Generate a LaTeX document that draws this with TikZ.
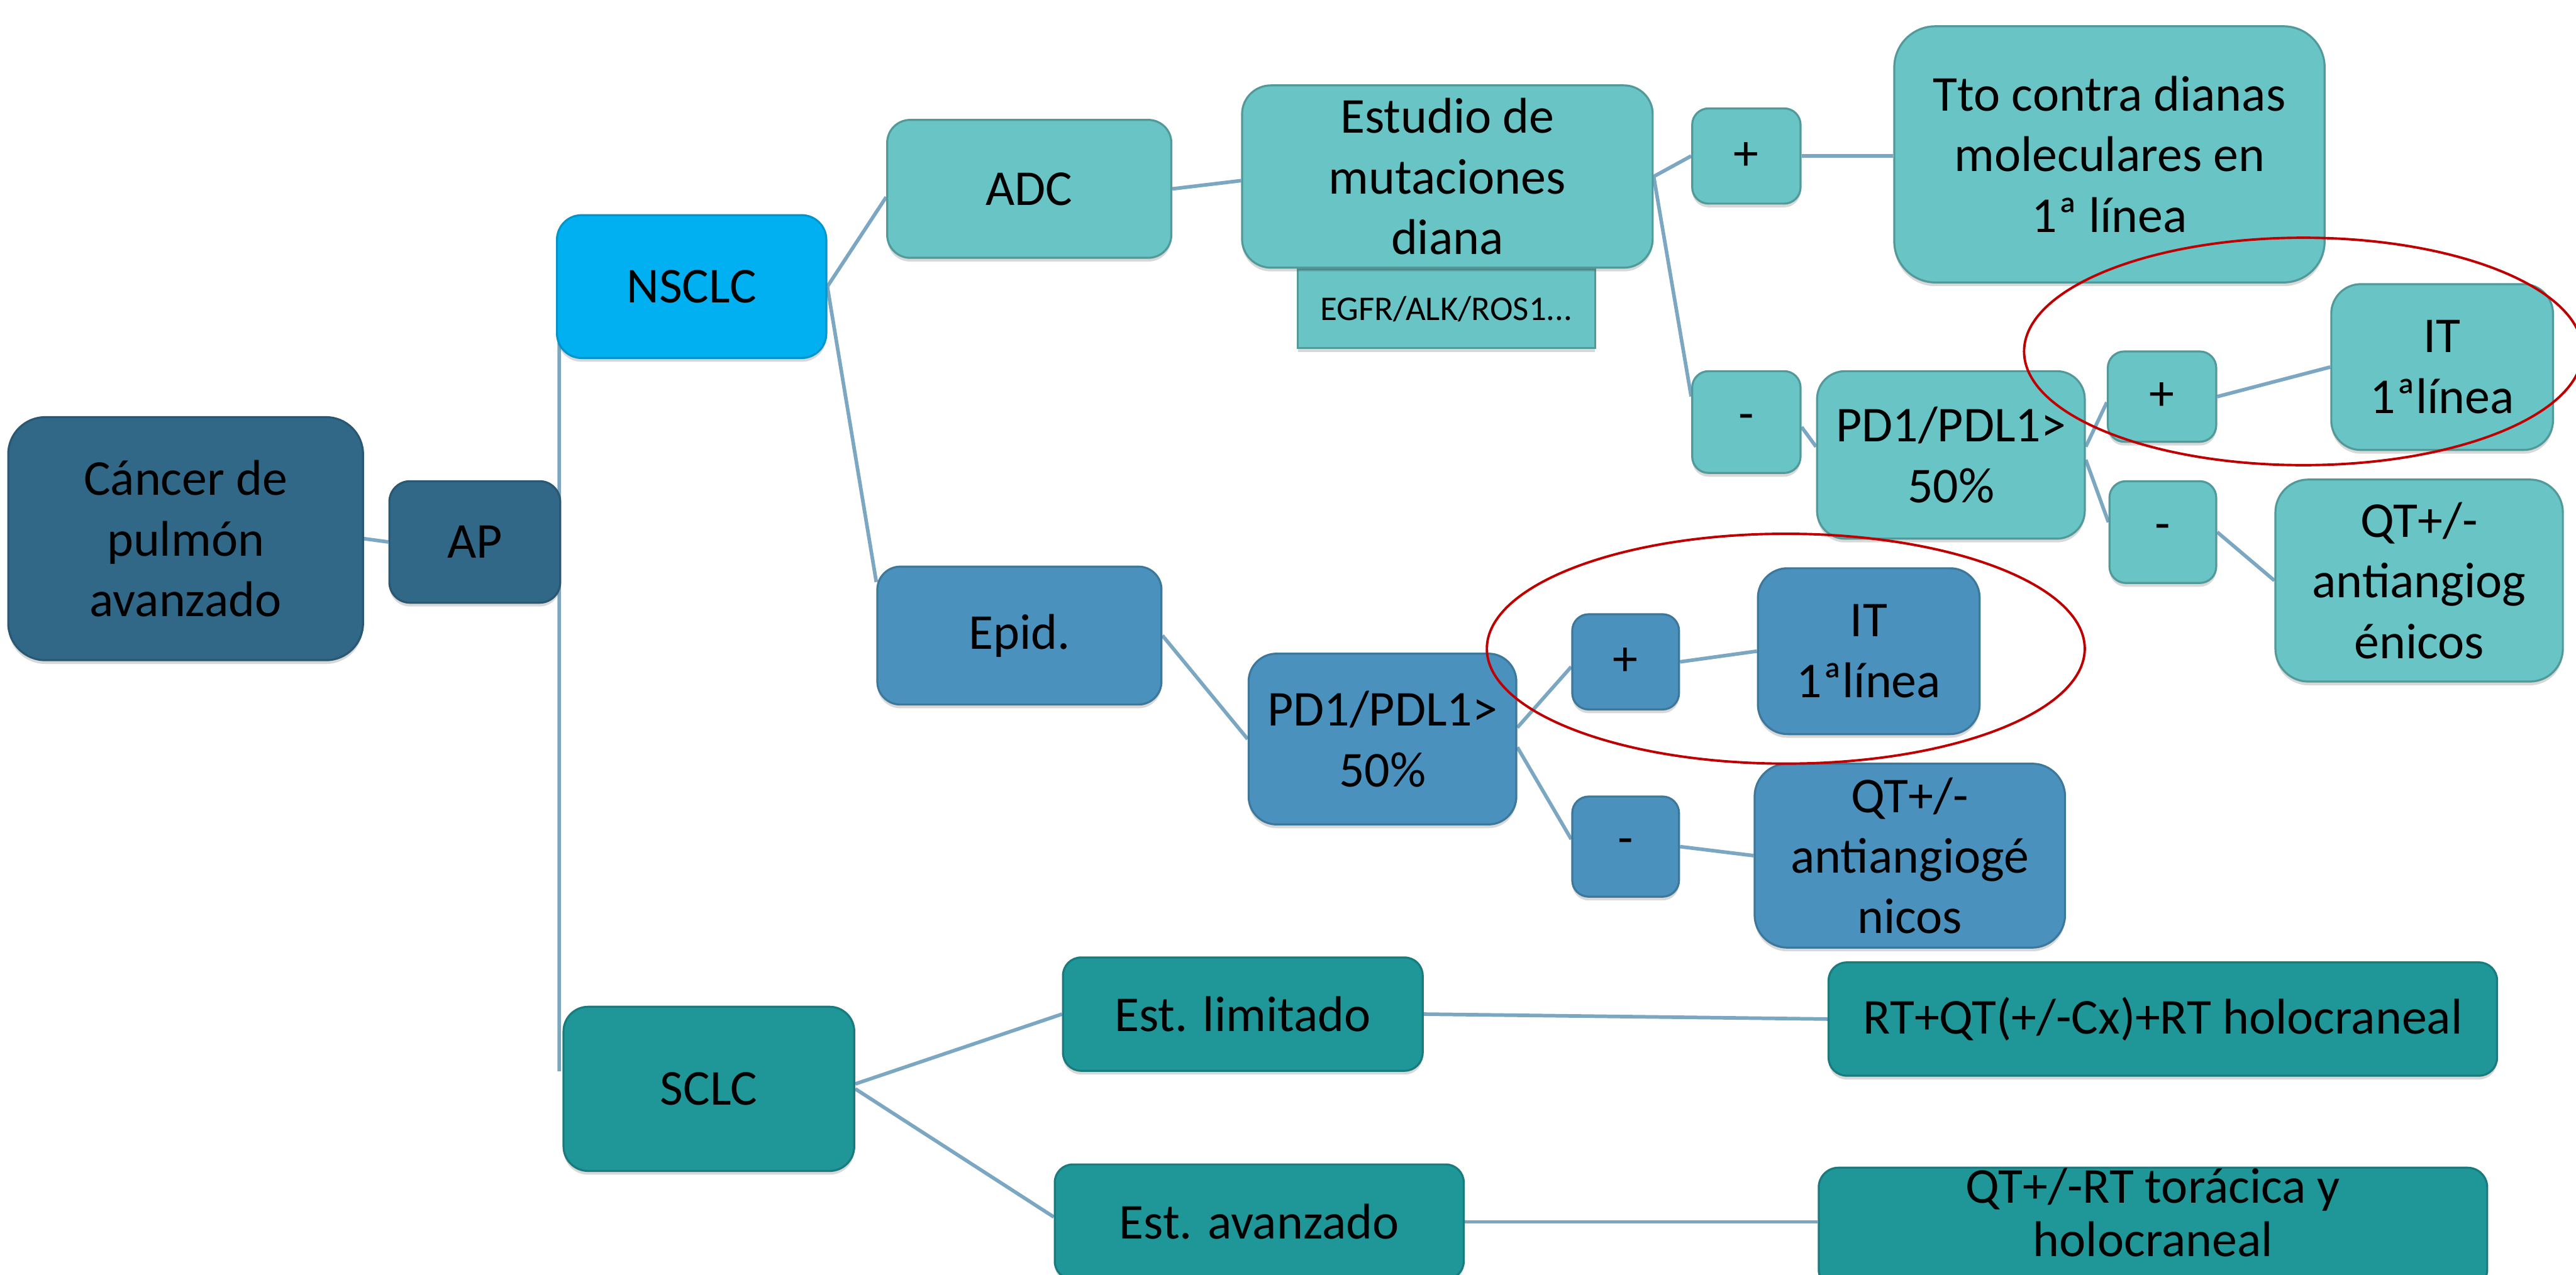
\documentclass[tikz,border=0pt]{standalone}
\usepackage{fontspec}
\setmainfont{Carlito}
\usetikzlibrary{calc,shadows}
\definecolor{cdark}{HTML}{326887}
\definecolor{cnsclc}{HTML}{00B0F0}
\definecolor{clight}{HTML}{69C4C6}
\definecolor{cepid}{HTML}{4A92BD}
\definecolor{cteal}{HTML}{1F9698}
\definecolor{cline}{HTML}{7BA7C2}
\definecolor{cred}{HTML}{C00000}
\pgfdeclarelayer{background}
\pgfsetlayers{background,main}
\begin{document}
\begin{tikzpicture}[x=0.02cm,y=-0.02cm,
  box/.style={align=center, inner sep=0pt, text=black,
    font=\fontsize{17.4pt}{21pt}\selectfont, line width=0.7pt,
    drop shadow={shadow xshift=0pt, shadow yshift=-1.3pt, opacity=0.22, fill=black!70}},
  dk/.style={box, fill=cdark, draw=cdark!85!black},
  ns/.style={box, fill=cnsclc, draw=cnsclc!85!black},
  lt/.style={box, fill=clight, draw=clight!78!black},
  ep/.style={box, fill=cepid, draw=cepid!82!black},
  tl/.style={box, fill=cteal, draw=cteal!82!black},
  conn/.style={draw=cline, line width=1.25pt},
  ring/.style={draw=cred, line width=0.85pt}]
\useasboundingbox (0,0) rectangle (1568,776);
\clip (0,0) rectangle (1568,776);

% root
\node[dk, rounded corners=0.45cm, minimum width=4.32cm, minimum height=2.96cm] (can) at (113,328) {Cáncer de\\pulmón\\avanzado};
\node[dk, rounded corners=0.25cm, minimum width=2.08cm, minimum height=1.48cm] (ap) at (289,330) {AP};

% level 2
\node[ns, rounded corners=0.3cm, minimum width=3.28cm, minimum height=1.74cm] (nsclc) at (421,174.5) {NSCLC};
\node[tl, rounded corners=0.3cm, minimum width=3.54cm, minimum height=2.0cm] (sclc) at (431.5,663) {SCLC};

% NSCLC branch
\node[lt, rounded corners=0.28cm, minimum width=3.46cm, minimum height=1.68cm] (adc) at (626.5,115) {ADC};
\node[ep, rounded corners=0.28cm, minimum width=3.46cm, minimum height=1.68cm] (epid) at (620.5,387) {Epid.};

\node[lt, rounded corners=0pt, minimum width=3.62cm, minimum height=0.96cm, font=\fontsize{12pt}{14pt}\selectfont] (egfr) at (880.5,188) {EGFR/ALK/ROS1...};
\node[lt, rounded corners=0.35cm, minimum width=5.0cm, minimum height=2.22cm] (estudio) at (881,107.5) {Estudio de\\mutaciones\\diana};

\node[lt, rounded corners=0.2cm, minimum width=1.32cm, minimum height=1.16cm] (plus1) at (1063,95) {+};
\node[lt, rounded corners=0.5cm, minimum width=5.24cm, minimum height=3.12cm] (tto) at (1284,94) {Tto contra dianas\\moleculares en\\1ª línea};
\node[lt, rounded corners=0.2cm, minimum width=1.32cm, minimum height=1.24cm] (minus1) at (1063,257) {-};
\node[lt, rounded corners=0.34cm, minimum width=3.26cm, minimum height=2.04cm] (pd1) at (1187.5,277) {PD1/PDL1>\\50\%};
\node[lt, rounded corners=0.2cm, minimum width=1.32cm, minimum height=1.1cm] (plus2) at (1316,241.5) {+};
\node[lt, rounded corners=0.36cm, minimum width=2.7cm, minimum height=2.02cm] (it1) at (1486.5,223.5) {IT\\1ªlínea};
\node[lt, rounded corners=0.2cm, minimum width=1.3cm, minimum height=1.24cm] (minus2) at (1316.5,324) {-};
\node[lt, rounded corners=0.4cm, minimum width=3.5cm, minimum height=2.46cm] (qt1) at (1472.5,353.5) {QT+/-\\antiangiog\\énicos};

\node[ep, rounded corners=0.34cm, minimum width=3.26cm, minimum height=2.08cm] (pd1b) at (841.5,450) {PD1/PDL1>\\50\%};
\node[ep, rounded corners=0.2cm, minimum width=1.3cm, minimum height=1.16cm] (plus3) at (989.5,403) {+};
\node[ep, rounded corners=0.36cm, minimum width=2.7cm, minimum height=2.02cm] (it2) at (1137.5,396.5) {IT\\1ªlínea};
\node[ep, rounded corners=0.2cm, minimum width=1.3cm, minimum height=1.22cm] (minus3) at (989.5,515.5) {-};
\node[ep, rounded corners=0.4cm, minimum width=3.78cm, minimum height=2.24cm] (qt2) at (1162.5,521) {QT+/-\\antiangiogé\\nicos};

% SCLC branch
\node[tl, rounded corners=0.22cm, minimum width=4.38cm, minimum height=1.38cm] (estlim) at (756.5,617.5) {Est. limitado};
\node[tl, rounded corners=0.22cm, minimum width=8.14cm, minimum height=1.38cm] (rt) at (1316.5,620.5) {RT+QT(+/-Cx)+RT holocraneal};
\node[tl, rounded corners=0.22cm, minimum width=4.98cm, minimum height=1.4cm] (estav) at (766.5,744) {Est. avanzado};
\node[tl, rounded corners=0.24cm, minimum width=8.14cm, minimum height=1.48cm, text depth=11pt, font=\fontsize{17.4pt}{18.5pt}\selectfont] (qtrt) at (1310.5,748) {QT+/-RT torácica y\\holocraneal};

% connectors, behind the boxes
\begin{pgfonlayer}{background}
\draw[conn] (can.east) -- (ap.west);
\draw[conn] ($(nsclc.south west)+(2,-10)$) -- ($(sclc.north west)+(-2,40)$);
\draw[conn] (nsclc.east) -- ($(adc.west)+(0,5)$);
\draw[conn] (nsclc.east) -- ($(epid.north west)+(0,10)$);
\draw[conn] (adc.east) -- ($(estudio.west)+(0,2.5)$);
\draw[conn] (estudio.east) -- (plus1.west);
\draw[conn] (estudio.east) -- ($(minus1.north west)+(0,16)$);
\draw[conn] (plus1.east) -- (plus1.east -| tto.west);
\draw[conn] ($(minus1.east)+(0,3)$) -- ($(pd1.west)+(0,-5)$);
\draw[conn] ($(pd1.east)+(0,-5)$) -- ($(plus2.west)+(0,3.5)$);
\draw[conn] ($(pd1.east)+(0,3)$) -- ($(minus2.west)+(0,-6)$);
\draw[conn] (plus2.east) -- (it1.west);
\draw[conn] (minus2.east) -- (qt1.west);
\draw[conn] (epid.east) -- (pd1b.west);
\draw[conn] ($(pd1b.east)+(0,-7)$) -- ($(plus3.west)+(0,3)$);
\draw[conn] ($(pd1b.east)+(0,5)$) -- ($(minus3.west)+(0,-4.5)$);
\draw[conn] (plus3.east) -- (it2.west);
\draw[conn] (minus3.east) -- (qt2.west);
\draw[conn] ($(sclc.east)+(0,-3)$) -- (estlim.west);
\draw[conn] (sclc.east) -- ($(estav.west)+(0,-3)$);
\draw[conn] (estlim.east) -- (rt.west);
\draw[conn] (estav.east) -- (estav.east -| qtrt.west);
\end{pgfonlayer}

% red rings
\draw[ring] (1402,214) ellipse [x radius=3.4cm, y radius=1.385cm];
\draw[ring] (1087,395) ellipse [x radius=3.64cm, y radius=1.4cm];
\end{tikzpicture}
\end{document}
